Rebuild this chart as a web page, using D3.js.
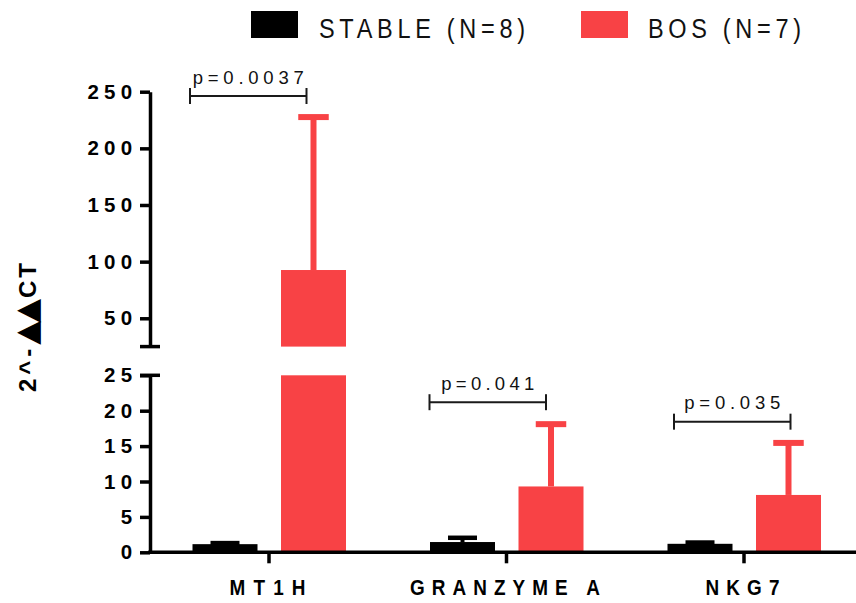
<!DOCTYPE html>
<html>
<head>
<meta charset="utf-8">
<script src="https://cdn.jsdelivr.net/npm/d3@7"></script>
<style>
  html, body { margin: 0; padding: 0; background: #fff; }
  svg { display: block; }
  text { font-family: "Liberation Sans", Arial, Helvetica, sans-serif; }
</style>
</head>
<body>
<svg id="chart" width="856" height="603"></svg>
<script>
// ---------------- data ----------------
const categories = ["MT1H", "GRANZYME A", "NKG7"];
const seriesNames = ["STABLE (N=8)", "BOS (N=7)"];
const stableMean = [1.15, 1.45, 1.2];
const stableErrTop = [1.3, 2.05, 1.38];
const bosMean = [92.6, 9.3, 8.1];
const bosErrTop = [227.6, 18.1, 15.45];
const pLabels = ["p=0.0037", "p=0.041", "p=0.035"];
const pBracketValue = [246.2, 21.2, 18.45];
const lowerTicks = [0, 5, 10, 15, 20, 25];
const upperTicks = [50, 100, 150, 200, 250];
const lowerDomain = [0, 25];
const upperDomain = [25, 250];
const yLabelParts = ["2^-", "▲▲", "CT"];

// ---------------- layout / style ----------------
const colors = ["#000000", "#f84245"];
const bracketShift = [[-35, -7], [-33, -5], [-26, 2]]; // relative to bar centres
const svg = d3.select("#chart");

const x = d3.scaleBand().domain(categories).range([150.25, 862.75]).padding(0);
const xs = d3.scaleBand().domain(seriesNames).range([-76.5, 77]).paddingInner(0.2655).paddingOuter(0);

const segments = [
  { domain: lowerDomain, scale: d3.scaleLinear().domain(lowerDomain).range([552.3, 375.3]), ticks: lowerTicks },
  { domain: upperDomain, scale: d3.scaleLinear().domain(upperDomain).range([346.6, 91.7]), ticks: upperTicks }
];
function segFor(v) { return v <= lowerDomain[1] ? segments[0] : segments[1]; }
function yAt(v) { return segFor(v).scale(v); }

const series = [
  { name: seriesNames[0], mean: stableMean, top: stableErrTop, color: colors[0], lw: 4, capW: 29, capLw: 4.5 },
  { name: seriesNames[1], mean: bosMean, top: bosErrTop, color: colors[1], lw: 6, capW: 30.5, capLw: 6 }
];

// ---------------- bars ----------------
const gBars = svg.append("g");
series.forEach(s => {
  categories.forEach((c, i) => {
    const v = s.mean[i];
    const bx = x(c) + x.bandwidth() / 2 + xs(s.name);
    segments.forEach(seg => {
      if (v > seg.domain[0]) {
        const hi = Math.min(v, seg.domain[1]);
        gBars.append("rect")
          .attr("x", bx).attr("width", xs.bandwidth())
          .attr("y", seg.scale(hi))
          .attr("height", seg.scale(seg.domain[0]) - seg.scale(hi))
          .attr("fill", s.color);
      }
    });
    const cx = bx + xs.bandwidth() / 2;
    const seg = segFor(v);
    const yTop = seg.scale(Math.min(s.top[i], seg.domain[1]));
    gBars.append("line")
      .attr("x1", cx).attr("x2", cx)
      .attr("y1", seg.scale(v)).attr("y2", yTop)
      .attr("stroke", s.color).attr("stroke-width", s.lw);
    gBars.append("line")
      .attr("x1", cx - s.capW / 2).attr("x2", cx + s.capW / 2)
      .attr("y1", yTop).attr("y2", yTop)
      .attr("stroke", s.color).attr("stroke-width", s.capLw);
  });
});

// ---------------- axes ----------------
const axisW = 3.5;
const axX = 150;
segments.forEach(seg => {
  const ax = d3.axisLeft(seg.scale).tickValues(seg.ticks).tickSize(10).tickSizeOuter(0).tickPadding(2.5);
  const g = svg.append("g").attr("transform", `translate(${axX},0)`).call(ax);
  g.select(".domain").attr("stroke-width", axisW).attr("stroke", "#000");
  g.selectAll(".tick line").attr("stroke-width", axisW).attr("stroke", "#000");
  g.selectAll(".tick text")
    .attr("font-size", 20.5).attr("font-weight", "bold")
    .attr("letter-spacing", 5.3).attr("fill", "#000")
    .style("font-family", "'Liberation Sans', Arial, sans-serif");
});
[segments[0].scale(lowerDomain[1]), segments[1].scale(upperDomain[0])].forEach(yy => {
  svg.append("line").attr("x1", axX - 10).attr("x2", axX + 10)
    .attr("y1", yy).attr("y2", yy).attr("stroke", "#000").attr("stroke-width", axisW);
});
const y0 = segments[0].scale(0);
svg.append("line").attr("x1", axX - axisW / 2).attr("x2", 856).attr("y1", y0).attr("y2", y0)
  .attr("stroke", "#000").attr("stroke-width", axisW);
categories.forEach(c => {
  const cx = x(c) + x.bandwidth() / 2;
  svg.append("line").attr("x1", cx).attr("x2", cx).attr("y1", y0).attr("y2", y0 + 11)
    .attr("stroke", "#000").attr("stroke-width", axisW);
});
const catWidths = { "MT1H": 76, "GRANZYME A": 190, "NKG7": 74 };
categories.forEach(c => {
  const cx = x(c) + x.bandwidth() / 2 - 1.5;
  const sx = 0.88;
  svg.append("text")
    .attr("transform", `translate(${cx},594.5) scale(${sx},1)`)
    .attr("text-anchor", "middle").attr("font-size", 21.5).attr("font-weight", "bold")
    .attr("textLength", catWidths[c] / sx).attr("lengthAdjust", "spacing")
    .text(c);
});

// y label
const yl = svg.append("text")
  .attr("transform", "translate(35.5,326) rotate(-90)")
  .attr("text-anchor", "middle").attr("font-weight", "bold").attr("font-size", 24);
yl.append("tspan").attr("letter-spacing", 4).text(yLabelParts[0]);
yl.append("tspan").attr("font-size", 31).attr("letter-spacing", -2).attr("dy", 1.5)
  .style("font-family", "'DejaVu Sans', sans-serif").text(yLabelParts[1]);
yl.append("tspan").attr("dy", -1.5).attr("dx", 3).attr("letter-spacing", 3).text(yLabelParts[2]);

// ---------------- significance brackets ----------------
const pWidths = [111, 93, 96];
categories.forEach((c, i) => {
  const bc = x(c) + x.bandwidth() / 2;
  const x1 = bc + xs(seriesNames[0]) + xs.bandwidth() / 2 + bracketShift[i][0];
  const x2 = bc + xs(seriesNames[1]) + xs.bandwidth() / 2 + bracketShift[i][1];
  const yy = yAt(pBracketValue[i]);
  const g = svg.append("g").attr("stroke", "#1a1a1a").attr("stroke-width", 2);
  g.append("line").attr("x1", x1).attr("x2", x2).attr("y1", yy).attr("y2", yy);
  g.append("line").attr("x1", x1).attr("x2", x1).attr("y1", yy - 8).attr("y2", yy + 8);
  g.append("line").attr("x1", x2).attr("x2", x2).attr("y1", yy - 8).attr("y2", yy + 8);
  svg.append("text").attr("x", (x1 + x2) / 2).attr("y", yy - 12.3)
    .attr("text-anchor", "middle").attr("font-size", 18.5).attr("fill", "#111")
    .attr("textLength", pWidths[i]).attr("lengthAdjust", "spacing")
    .text(pLabels[i]);
});

// ---------------- legend ----------------
const legendItems = [
  { name: seriesNames[0], color: colors[0], rx: 251, tx: 319, tw: 206 },
  { name: seriesNames[1], color: colors[1], rx: 581, tx: 648, tw: 153 }
];
legendItems.forEach(d => {
  const sx = 0.84;
  svg.append("rect").attr("x", d.rx).attr("y", 11).attr("width", 47).attr("height", 27).attr("fill", d.color);
  svg.append("text")
    .attr("transform", `translate(${d.tx},37.5) scale(${sx},1)`)
    .attr("font-size", 28).attr("fill", "#111")
    .attr("textLength", d.tw / sx).attr("lengthAdjust", "spacing").text(d.name);
});
</script>
</body>
</html>
